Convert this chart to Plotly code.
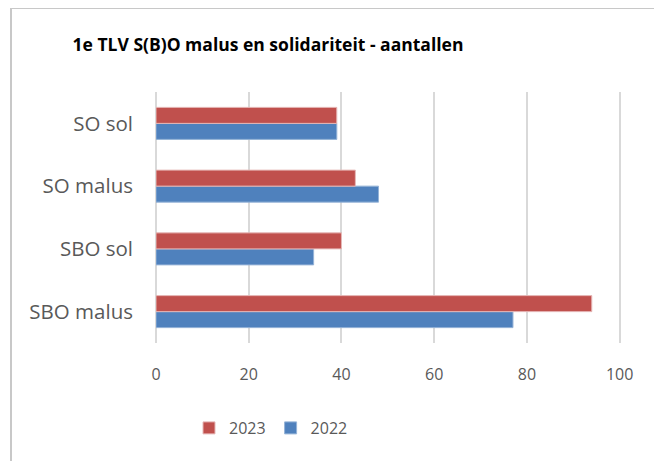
import plotly.graph_objects as go

categories = ["SBO malus", "SBO sol", "SO malus", "SO sol"]
values_2022 = [77, 34, 48, 39]
values_2023 = [94, 40, 43, 39]
x_ticks = [0, 20, 40, 60, 80, 100]

RED = "#C0504D"
BLUE = "#4F81BD"
GRAY_TXT = "#595959"
GRID = "#D9D9D9"

fig = go.Figure()
fig.add_trace(go.Bar(
    y=categories, x=values_2022, name="2022", orientation="h",
    marker=dict(color=BLUE, line=dict(color="#95B3D7", width=1)),
))
fig.add_trace(go.Bar(
    y=categories, x=values_2023, name="2023", orientation="h",
    marker=dict(color=RED, line=dict(color="#E6B9B8", width=1)),
))

# page offset from default body margin
OFF = 8
W, H = 662, 461
PL, PR, PT, PB = 156, 621, 92, 343  # target plot area in page pixels
L = PL - OFF
T = PT - OFF
pw, ph = PR - PL, PB - PT
R = W - L - pw
B = H - T - ph

def px_x(p):
    return (p - PL) / pw

def px_y(p):
    return (PB - p) / ph

fig.update_layout(
    width=W, height=H,
    margin=dict(l=L, r=R, t=T, b=B),
    paper_bgcolor="white", plot_bgcolor="white",
    barmode="group", bargap=0.49, bargroupgap=0,
    font=dict(family="Open Sans", color=GRAY_TXT, size=16),
    title=dict(
        text="<b>1e TLV S(B)O malus en solidariteit - aantallen</b>",
        font=dict(family="Open Sans", size=17.5, color="#000000"),
        x=px_x(268), xanchor="center", xref="paper",
        y=1 - (45 - OFF) / H, yref="container", yanchor="middle",
    ),
    xaxis=dict(
        range=[0, 100.3], tickvals=x_ticks, showgrid=True, gridcolor=GRID,
        gridwidth=1.5, zeroline=True, zerolinecolor=GRID, zerolinewidth=1.5,
        showline=False, ticks="", tickfont=dict(size=16, color=GRAY_TXT),
        ticklabelstandoff=20, fixedrange=True,
    ),
    yaxis=dict(
        categoryorder="array", categoryarray=categories,
        showgrid=False, zeroline=False, showline=False, ticks="",
        tickfont=dict(size=20.5, color=GRAY_TXT), ticklabelstandoff=22,
        fixedrange=True,
    ),
    legend=dict(
        orientation="h", traceorder="reversed",
        x=px_x(189), xanchor="left", y=px_y(428), yanchor="middle",
        font=dict(size=16, color=GRAY_TXT), itemwidth=30,
    ),
    shapes=[
        dict(type="line", xref="paper", yref="paper",
             x0=px_x(11), x1=px_x(11), y0=px_y(475), y1=px_y(8),
             line=dict(color="#C8C8C8", width=2)),
        dict(type="line", xref="paper", yref="paper",
             x0=px_x(11), x1=px_x(690), y0=px_y(8), y1=px_y(8),
             line=dict(color="#C8C8C8", width=2)),
    ],
)

fig.write_html("out.html")
